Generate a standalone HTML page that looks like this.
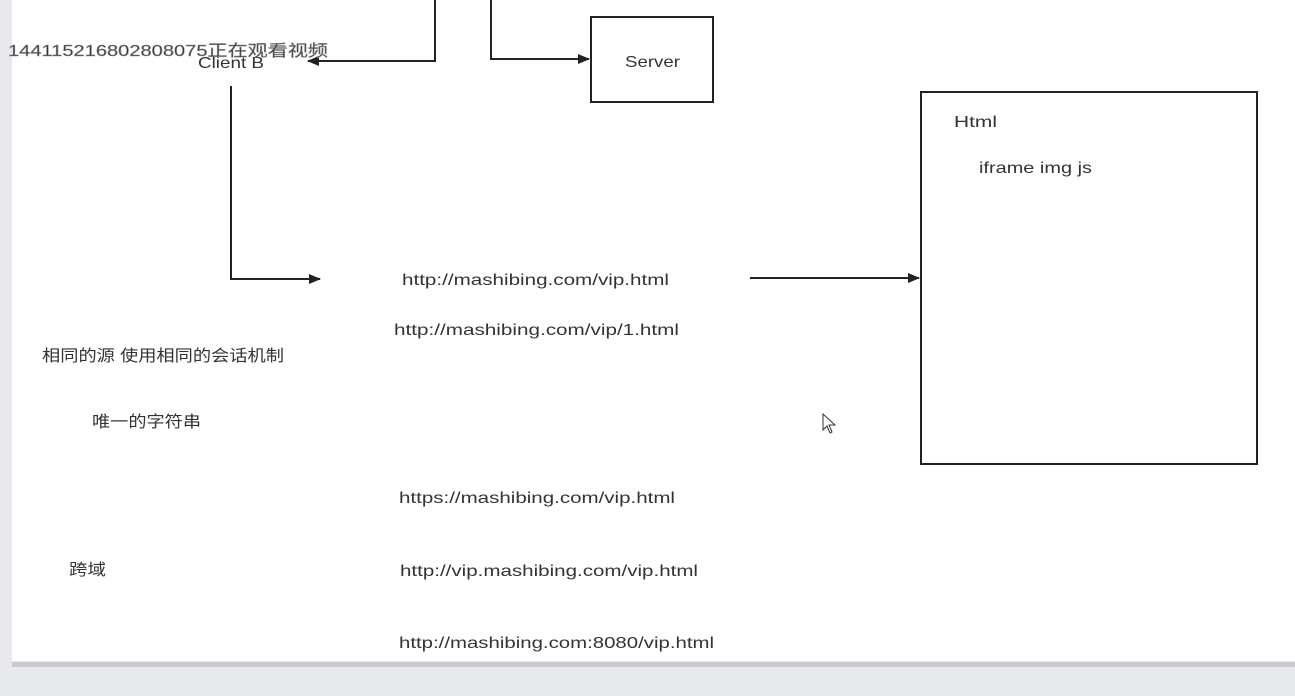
<!DOCTYPE html>
<html><head><meta charset="utf-8"><style>
html,body{margin:0;padding:0;width:1295px;height:696px;overflow:hidden;background:#e8e9ed;}
svg{display:block}
text{font-family:"Liberation Sans","Noto Sans CJK SC",sans-serif;fill:#333;font-size:16px}
</style></head><body>
<svg width="1295" height="696" xmlns="http://www.w3.org/2000/svg">
<defs><marker id="a" markerWidth="12" markerHeight="10" refX="11" refY="5" orient="auto" markerUnits="userSpaceOnUse"><path d="M0,0 L12,5 L0,10 z" fill="#222"/></marker></defs>
<rect x="12" y="662" width="1283" height="5" fill="#c9cacd"/>
<rect x="12" y="0" width="1283" height="661" fill="#fff"/>
<g stroke="#222" stroke-width="2" fill="none">
<polyline points="435,0 435,61 308,61" marker-end="url(#a)"/>
<polyline points="491,0 491,59 589,59" marker-end="url(#a)"/>
<polyline points="231,86 231,279 320,279" marker-end="url(#a)"/>
<line x1="750" y1="278" x2="919" y2="278" marker-end="url(#a)"/>
<rect x="591" y="17" width="122" height="85"/>
<rect x="921" y="92" width="336" height="372"/>
</g>
<text x="625" y="67" font-size="17" textLength="55" lengthAdjust="spacingAndGlyphs">Server</text>
<text x="198" y="68" font-size="16" fill="#666" textLength="66" lengthAdjust="spacingAndGlyphs">Client B</text>
<text x="8" y="56" font-size="17" fill="#fff" stroke="#999" stroke-width="0.5" textLength="320" lengthAdjust="spacingAndGlyphs">144115216802808075正在观看视频</text>
<text x="954" y="127" font-size="17" textLength="43" lengthAdjust="spacingAndGlyphs">Html</text>
<text x="979" y="173" font-size="17" textLength="113" lengthAdjust="spacingAndGlyphs">iframe img js</text>
<text x="402" y="285" font-size="17" textLength="267" lengthAdjust="spacingAndGlyphs">http://mashibing.com/vip.html</text>
<text x="394" y="335" font-size="17" textLength="285" lengthAdjust="spacingAndGlyphs">http://mashibing.com/vip/1.html</text>
<text x="42" y="361" font-size="15" textLength="242" lengthAdjust="spacingAndGlyphs">相同的源 使用相同的会话机制</text>
<text x="92" y="427" font-size="15" textLength="109" lengthAdjust="spacingAndGlyphs">唯一的字符串</text>
<text x="399" y="503" font-size="17" textLength="276" lengthAdjust="spacingAndGlyphs">https://mashibing.com/vip.html</text>
<text x="69" y="575" font-size="15" textLength="37" lengthAdjust="spacingAndGlyphs">跨域</text>
<text x="400" y="576" font-size="17" textLength="298" lengthAdjust="spacingAndGlyphs">http://vip.mashibing.com/vip.html</text>
<text x="399" y="648" font-size="17" textLength="315" lengthAdjust="spacingAndGlyphs">http://mashibing.com:8080/vip.html</text>
<path d="M823,414 L823,430 L827,426 L830,433 L832,432 L829,425 L835,425 Z" fill="#fff" stroke="#333" stroke-width="1"/>
</svg>
</body></html>
